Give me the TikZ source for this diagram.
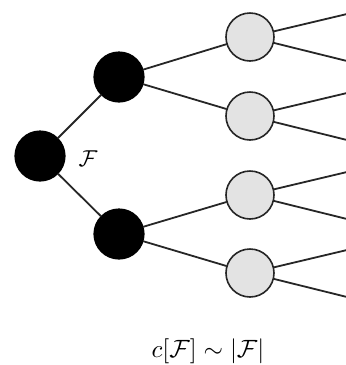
\documentclass[tikz,border=0pt]{standalone}
\usepackage{graphicx}
\usepackage{tikz}

\tikzset{
  blacknode/.style={circle, draw=black, fill=black, line width=1.2pt, minimum size=50pt, inner sep=0pt},
  graynode/.style={circle, draw=black!85, fill=gray!22, line width=1.6pt, minimum size=48pt, inner sep=0pt},
  branch/.style={line width=1.8pt, draw=black!85},
}

\begin{document}
\begin{tikzpicture}[x=1pt, y=-1pt, line cap=round, line join=round]

  %% ==== nodes ====
  \node[blacknode] (root) at (40,156) {};
  \node[blacknode] (up)   at (119,77) {};
  \node[blacknode] (down) at (119,234) {};

  \node[graynode] (g1) at (250,37) {};
  \node[graynode] (g2) at (250,116) {};
  \node[graynode] (g3) at (250,195) {};
  \node[graynode] (g4) at (250,273) {};

  %% ==== free ends at the right edge ====
  \foreach \i/\y in {1/37,2/116,3/195,4/273}{
    \coordinate (e\i a) at (347,\y-23);
    \coordinate (e\i b) at (347,\y+24);
  }

  %% ==== connectors ====
  \draw[branch] (root) -- (up);
  \draw[branch] (root) -- (down);
  \draw[branch] (up) -- (g1);
  \draw[branch] (up) -- (g2);
  \draw[branch] (down) -- (g3);
  \draw[branch] (down) -- (g4);
  \foreach \i in {1,...,4}{
    \draw[branch] (g\i) -- (e\i a);
    \draw[branch] (g\i) -- (e\i b);
  }

  %% ==== labels ====
  \node (flabel) at (88,159) {\scalebox{2.3}{$\mathcal{F}$}};
  \node (caption) at (208,351) {\scalebox{2.5}{$c[\mathcal{F}] \sim |\mathcal{F}|$}};

  \pgfresetboundingbox
  \path[use as bounding box] (0,0) rectangle (346,365);
\end{tikzpicture}
\end{document}
